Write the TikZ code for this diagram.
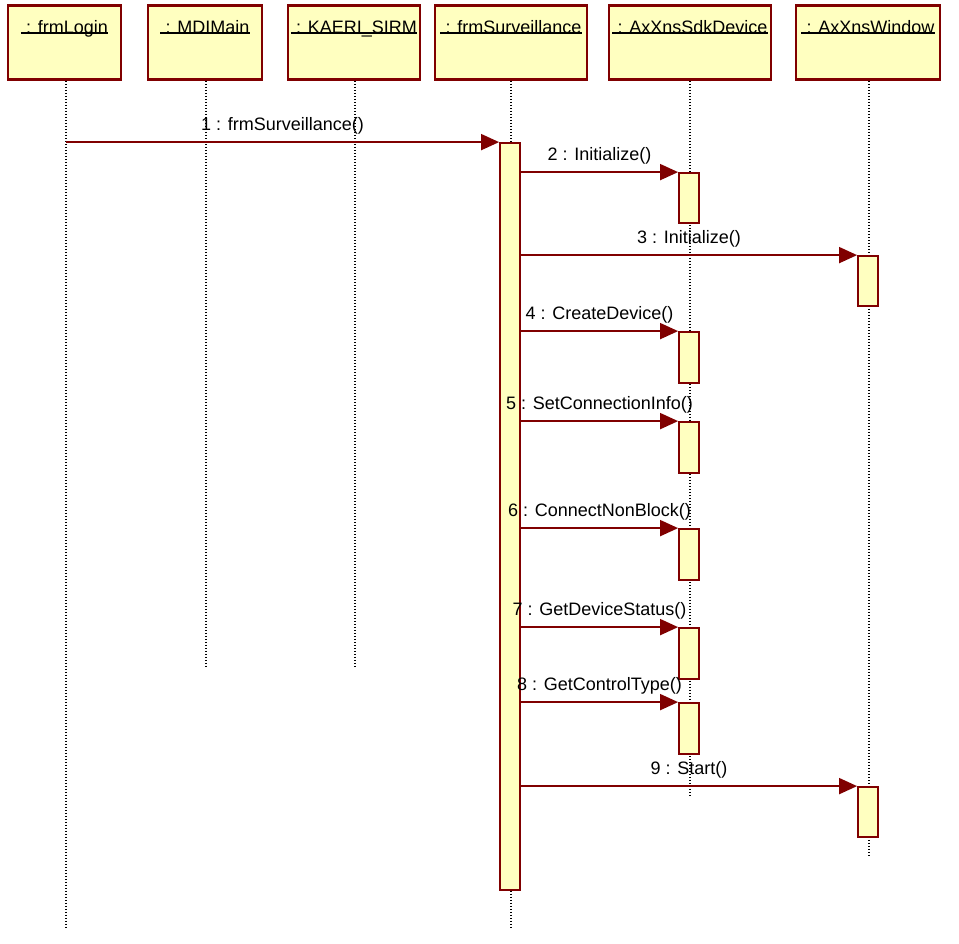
\documentclass[tikz,border=0pt]{standalone}
\usepackage{fontspec}
\setmainfont{Liberation Sans}
\usetikzlibrary{arrows.meta}
\definecolor{umlred}{RGB}{128,0,0}
\definecolor{umlfill}{RGB}{255,255,192}
\tikzset{
  head/.style={draw=umlred, fill=umlfill, line width=2.5pt, inner sep=0pt},
  htext/.style={font=\fontsize{18}{21}\selectfont, inner sep=0pt, anchor=base},
  uline/.style={black, line width=1.2pt},
  life/.style={black, line width=1.3pt, dash pattern=on 1.5pt off 1.5pt},
  act/.style={draw=umlred, fill=umlfill, line width=1.8pt, minimum width=20pt, inner sep=0pt},
  msg/.style={umlred, line width=1.8pt, -{Triangle[length=18pt,width=16pt]}},
  lbl/.style={font=\fontsize{18}{21}\selectfont, inner sep=0pt, black, midway, yshift=16pt}
}
\begin{document}
\begin{tikzpicture}[x=1pt,y=-1pt]
\useasboundingbox (0,0) rectangle (959,943);
% header boxes
\node[head, minimum width=113pt, minimum height=74pt] (h1) at (64.5,42.5) {};
\node[head, minimum width=114pt, minimum height=74pt] (h2) at (205,42.5) {};
\node[head, minimum width=132pt, minimum height=74pt] (h3) at (354,42.5) {};
\node[head, minimum width=152pt, minimum height=74pt] (h4) at (511,42.5) {};
\node[head, minimum width=162pt, minimum height=74pt] (h5) at (690,42.5) {};
\node[head, minimum width=144pt, minimum height=74pt] (h6) at (868,42.5) {};
\node[htext] (t1) at ([yshift=-29pt]h1.north) {\ : frmLogin};
\node[htext] (t2) at ([yshift=-29pt]h2.north) {\ : MDIMain};
\node[htext] (t3) at ([yshift=-29pt]h3.north) {\ : KAERI\_SIRM};
\node[htext] (t4) at ([yshift=-29pt]h4.north) {\ : frmSurveillance};
\node[htext] (t5) at ([yshift=-29pt]h5.north) {\ : AxXnsSdkDevice};
\node[htext] (t6) at ([yshift=-29pt]h6.north) {\ : AxXnsWindow};
\foreach \t in {t1,t2,t3,t4,t5,t6}
  \draw[uline] ([yshift=0.3pt]\t.base west) -- ([yshift=0.3pt]\t.base east);
% lifeline ends
\coordinate (e1) at (66,928);
\coordinate (e2) at (206,667);
\coordinate (e3) at (355,667);
\coordinate (e4) at (511,928);
\coordinate (e5) at (690,795);
\coordinate (e6) at (869,855);
\draw[life] (h1.south -| e1) -- (e1);
\draw[life] (h2.south -| e2) -- (e2);
\draw[life] (h3.south -| e3) -- (e3);
\draw[life] (h4.south -| e4) -- (e4);
\draw[life] (h5.south -| e5) -- (e5);
\draw[life] (h6.south -| e6) -- (e6);
% activations
\node[act, minimum height=747pt] (a0) at (510,516.5) {};
\node[act, minimum height=50pt] (a2) at (689,198) {};
\node[act, minimum height=50pt] (a3) at (868,281) {};
\node[act, minimum height=51pt] (a4) at (689,357.5) {};
\node[act, minimum height=51pt] (a5) at (689,447.5) {};
\node[act, minimum height=51pt] (a6) at (689,554.5) {};
\node[act, minimum height=51pt] (a7) at (689,653.5) {};
\node[act, minimum height=51pt] (a8) at (689,728.5) {};
\node[act, minimum height=50pt] (a9) at (868,812) {};
% messages
\draw[msg] (a0.north west -| e1) -- (a0.north west) node[lbl] {1 : frmSurveillance()};
\draw[msg] (a0.east |- a2.north) -- (a2.north west) node[lbl] {2 : Initialize()};
\draw[msg] (a0.east |- a3.north) -- (a3.north west) node[lbl] {3 : Initialize()};
\draw[msg] (a0.east |- a4.north) -- (a4.north west) node[lbl] {4 : CreateDevice()};
\draw[msg] (a0.east |- a5.north) -- (a5.north west) node[lbl] {5 : SetConnectionInfo()};
\draw[msg] (a0.east |- a6.north) -- (a6.north west) node[lbl] {6 : ConnectNonBlock()};
\draw[msg] (a0.east |- a7.north) -- (a7.north west) node[lbl] {7 : GetDeviceStatus()};
\draw[msg] (a0.east |- a8.north) -- (a8.north west) node[lbl] {8 : GetControlType()};
\draw[msg] (a0.east |- a9.north) -- (a9.north west) node[lbl] {9 : Start()};
\end{tikzpicture}
\end{document}
